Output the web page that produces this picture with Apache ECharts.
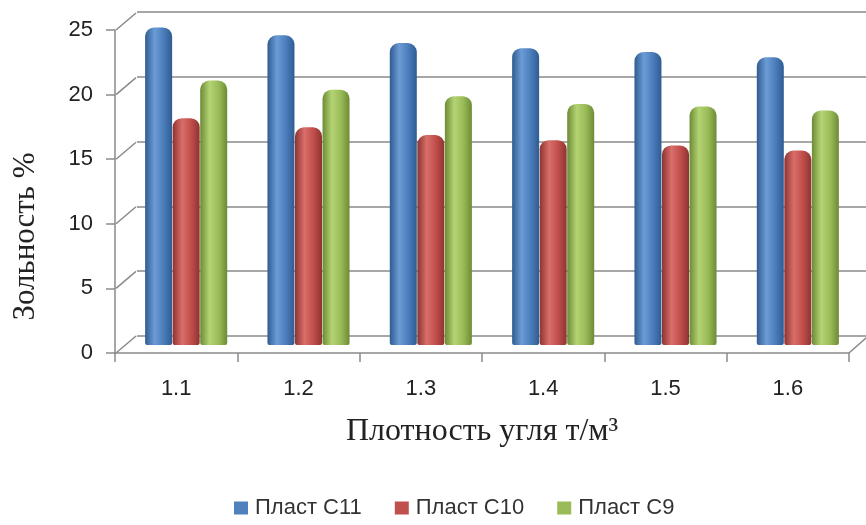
<!DOCTYPE html>
<html>
<head>
<meta charset="utf-8">
<script src="https://cdn.jsdelivr.net/npm/echarts@6/dist/echarts.min.js"></script>
<style>html,body{margin:0;padding:0;background:#fff;}#c{width:866px;height:525px;}</style>
</head>
<body>
<div id="c"></div>
<script>
var categories = ['1.1', '1.2', '1.3', '1.4', '1.5', '1.6'];
var seriesNames = ['Пласт С11', 'Пласт С10', 'Пласт С9'];
var c11 = [24.5, 23.9, 23.3, 22.9, 22.6, 22.2];
var c10 = [17.5, 16.8, 16.2, 15.8, 15.4, 15.0];
var c9 = [20.4, 19.7, 19.2, 18.6, 18.4, 18.1];
var yTicks = [0, 5, 10, 15, 20, 25];

var chart = echarts.init(document.getElementById('c'));
var grey = '#8a8a8a';
function cyl(dark, mid, light) {
  return new echarts.graphic.LinearGradient(0, 0, 1, 0, [
    {offset: 0, color: dark},
    {offset: 0.35, color: light},
    {offset: 0.7, color: mid},
    {offset: 1, color: dark}
  ]);
}
var colors = [
  {solid: '#4F81BD', grad: cyl('#2f5b91', '#4a7cba', '#6c9cd6')},
  {solid: '#C0504D', grad: cyl('#8c3431', '#bf4d4a', '#d96e6a')},
  {solid: '#9BBB59', grad: cyl('#6c8b35', '#98b956', '#b4d474')}
];
var data = [c11, c10, c9];
var series = seriesNames.map(function (n, i) {
  return {
    name: n, type: 'bar', xAxisIndex: 2, yAxisIndex: 2,
    data: data[i], barWidth: 27, barGap: '2%',
    itemStyle: {color: colors[i].grad, borderRadius: [9, 9, 2, 2]},
    z: 3
  };
});
series.push({
  type: 'custom', xAxisIndex: 0, yAxisIndex: 0, silent: true, z: 5,
  data: yTicks.map(function (t) { return [0, t]; }),
  renderItem: function (params, api) {
    var cs = params.coordSys;
    var y = api.coord([0, api.value(1)])[1];
    var children = [{
      type: 'line',
      shape: {x1: cs.x + 1, y1: y, x2: cs.x + 21, y2: y - 17},
      style: {stroke: grey, lineWidth: 1.5}
    }];
    if (api.value(1) === 0) {
      children.push({
        type: 'line',
        shape: {x1: cs.x + cs.width, y1: y, x2: cs.x + cs.width + 18, y2: y - 16},
        style: {stroke: grey, lineWidth: 1.5}
      });
    }
    return {type: 'group', children: children};
  }
});

chart.setOption({
  animation: false,
  backgroundColor: '#fff',
  grid: [
    {left: 115, right: 17, top: 30, bottom: 172},
    {left: 137, right: 0, top: 12, bottom: 189},
    {left: 125, right: 7, top: 21, bottom: 180}
  ],
  legend: {
    data: seriesNames.map(function (n, i) { return {name: n, itemStyle: {color: colors[i].solid}}; }),
    bottom: 1, left: 229,
    itemWidth: 14, itemHeight: 13, itemGap: 33, icon: 'rect',
    textStyle: {fontFamily: 'Liberation Sans', fontSize: 22, color: '#333', padding: [0, 0, 0, 2]}
  },
  color: colors.map(function (c) { return c.solid; }),
  xAxis: [
    {
      type: 'category', gridIndex: 0, data: categories,
      axisLine: {lineStyle: {color: grey, width: 1.5}},
      axisTick: {show: true, length: 9, lineStyle: {color: grey, width: 1.5}},
      axisLabel: {fontFamily: 'Liberation Sans', fontSize: 22, color: '#222', margin: 25},
      name: 'Плотность угля т/м³', nameLocation: 'middle', nameGap: 63,
      nameTextStyle: {fontFamily: 'Liberation Serif', fontSize: 32, color: '#222'}
    },
    {type: 'value', gridIndex: 1, show: false, min: 0, max: 1},
    {type: 'category', gridIndex: 2, data: categories, show: false}
  ],
  yAxis: [
    {
      type: 'value', gridIndex: 0, min: 0, max: 25, interval: 5,
      axisLine: {show: true, lineStyle: {color: grey, width: 1.5}},
      axisTick: {show: true, length: 9, lineStyle: {color: grey, width: 1.5}},
      splitLine: {show: false},
      axisLabel: {fontFamily: 'Liberation Sans', fontSize: 22, color: '#222', margin: 22},
      name: 'Зольность %', nameLocation: 'middle', nameGap: 74, nameRotate: 90,
      nameTextStyle: {fontFamily: 'Liberation Serif', fontSize: 31, color: '#222', padding: [0, 90, 0, 0]}
    },
    {
      type: 'value', gridIndex: 1, min: 0, max: 25, interval: 5,
      axisLine: {show: false}, axisTick: {show: false}, axisLabel: {show: false},
      splitLine: {show: true, lineStyle: {color: grey, width: 1.5}}
    },
    {type: 'value', gridIndex: 2, min: 0, max: 25, show: false, splitLine: {show: false}}
  ],
  series: series
});
</script>
</body>
</html>
